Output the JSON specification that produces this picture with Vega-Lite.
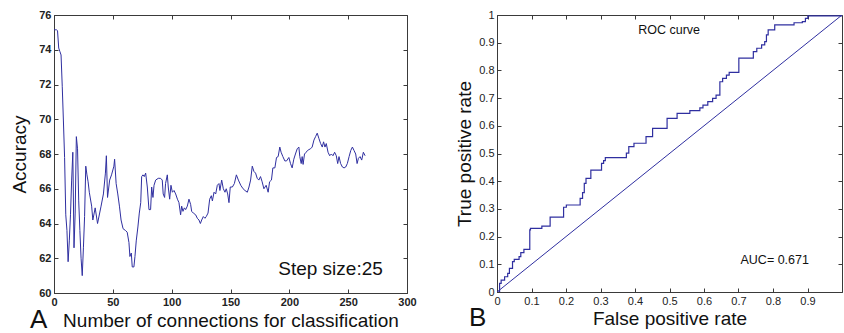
{
  "$schema": "https://vega.github.io/schema/vega-lite/v6.json",
  "padding": {"top": 8, "left": 10, "right": 0, "bottom": 0},
  "background": "white",
  "config": {
    "font": "Liberation Sans",
    "view": {"stroke": "#3a3a3a", "strokeWidth": 1},
    "axis": {
      "grid": false,
      "domainColor": "#3a3a3a",
      "tickColor": "#3a3a3a",
      "tickSize": -4,
      "labelPadding": 7,
      "labelFontSize": 11,
      "labelColor": "#222",
      "labelFlush": false,
      "labelOverlap": false,
      "titleFontSize": 19,
      "titleFontWeight": "normal",
      "titleColor": "#111"
    },
    "title": {"color": "#111", "fontWeight": "normal"}
  },
  "datasets": {
    "acc": [
      {"n": 0, "acc": 75.15}, {"n": 1, "acc": 75.15}, {"n": 2, "acc": 75.15}, {"n": 3, "acc": 75.1},
      {"n": 4, "acc": 74.1}, {"n": 5, "acc": 73.9}, {"n": 6, "acc": 73.7}, {"n": 7, "acc": 71.9},
      {"n": 8, "acc": 69.9}, {"n": 9, "acc": 67.8}, {"n": 10, "acc": 64.5}, {"n": 11, "acc": 63.6},
      {"n": 12, "acc": 61.8}, {"n": 13, "acc": 63.0}, {"n": 14, "acc": 64.5}, {"n": 15, "acc": 66.5},
      {"n": 16, "acc": 68.1}, {"n": 17, "acc": 62.6}, {"n": 18, "acc": 64.6}, {"n": 19, "acc": 69.0},
      {"n": 20, "acc": 68.3}, {"n": 21, "acc": 65.3}, {"n": 22, "acc": 63.6}, {"n": 23, "acc": 62.0},
      {"n": 24, "acc": 61.0}, {"n": 25, "acc": 62.6}, {"n": 26, "acc": 64.4}, {"n": 27, "acc": 67.3},
      {"n": 28, "acc": 66.8}, {"n": 29, "acc": 66.4}, {"n": 30, "acc": 65.8}, {"n": 32, "acc": 65.0},
      {"n": 33, "acc": 64.2}, {"n": 35, "acc": 64.9}, {"n": 37, "acc": 64.0}, {"n": 40, "acc": 65.0},
      {"n": 42, "acc": 65.7}, {"n": 43.7, "acc": 66.9}, {"n": 44.5, "acc": 67.9}, {"n": 45.5, "acc": 65.5},
      {"n": 47.3, "acc": 66.5}, {"n": 48.9, "acc": 66.8}, {"n": 50.9, "acc": 67.3}, {"n": 51.5, "acc": 67.7},
      {"n": 52.8, "acc": 66.3}, {"n": 54.2, "acc": 65.7}, {"n": 55.6, "acc": 65.0}, {"n": 57.0, "acc": 64.2},
      {"n": 58.7, "acc": 63.7}, {"n": 60.7, "acc": 63.6}, {"n": 62.2, "acc": 63.5}, {"n": 63.7, "acc": 62.9},
      {"n": 64.5, "acc": 62.1}, {"n": 65.7, "acc": 62.3}, {"n": 66.5, "acc": 61.5}, {"n": 67.9, "acc": 61.5},
      {"n": 68.8, "acc": 62.1}, {"n": 69.9, "acc": 63.0}, {"n": 71.3, "acc": 63.8}, {"n": 72.5, "acc": 64.6},
      {"n": 73.7, "acc": 65.2}, {"n": 74.5, "acc": 66.7}, {"n": 75.6, "acc": 66.8}, {"n": 76.7, "acc": 66.7},
      {"n": 77.9, "acc": 66.9}, {"n": 79.3, "acc": 66.1}, {"n": 80.7, "acc": 64.8}, {"n": 82.1, "acc": 64.8},
      {"n": 83, "acc": 66.1}, {"n": 84.1, "acc": 65.5}, {"n": 85, "acc": 66.2}, {"n": 86.4, "acc": 66.5},
      {"n": 88.6, "acc": 66.6}, {"n": 90.6, "acc": 66.6}, {"n": 92, "acc": 66.5}, {"n": 92.8, "acc": 65.7},
      {"n": 94, "acc": 65.5}, {"n": 94.8, "acc": 66.3}, {"n": 96.3, "acc": 66.8}, {"n": 97.1, "acc": 66.1},
      {"n": 98.3, "acc": 65.4}, {"n": 99.4, "acc": 66.2}, {"n": 100.6, "acc": 65.8}, {"n": 102, "acc": 65.9},
      {"n": 103.4, "acc": 65.7}, {"n": 104.9, "acc": 65.4}, {"n": 106.2, "acc": 65.2}, {"n": 107.6, "acc": 64.5},
      {"n": 108.5, "acc": 65.0}, {"n": 109.6, "acc": 64.7}, {"n": 110.8, "acc": 64.9}, {"n": 111.9, "acc": 64.8},
      {"n": 113.3, "acc": 65.0}, {"n": 114.7, "acc": 65.4}, {"n": 116.1, "acc": 65.1}, {"n": 117, "acc": 64.7},
      {"n": 118.4, "acc": 64.6}, {"n": 120.4, "acc": 64.5}, {"n": 121.8, "acc": 64.3}, {"n": 123.2, "acc": 64.2},
      {"n": 124.4, "acc": 64.0}, {"n": 125.5, "acc": 64.2}, {"n": 126.9, "acc": 64.4}, {"n": 128.3, "acc": 64.3},
      {"n": 129.4, "acc": 64.4}, {"n": 130.9, "acc": 64.6}, {"n": 132.3, "acc": 65.4}, {"n": 133.7, "acc": 65.6},
      {"n": 134.6, "acc": 65.3}, {"n": 136, "acc": 65.8}, {"n": 137.4, "acc": 65.7}, {"n": 138.8, "acc": 66.2},
      {"n": 140.2, "acc": 66.3}, {"n": 141, "acc": 65.9}, {"n": 142.5, "acc": 66.5}, {"n": 143.9, "acc": 66.0},
      {"n": 145.3, "acc": 65.8}, {"n": 146.4, "acc": 66.0}, {"n": 147.6, "acc": 65.7}, {"n": 148.7, "acc": 65.2},
      {"n": 149.8, "acc": 66.1}, {"n": 151.6, "acc": 66.1}, {"n": 153.3, "acc": 66.3}, {"n": 155, "acc": 66.8},
      {"n": 156.7, "acc": 66.5}, {"n": 158.7, "acc": 66.2}, {"n": 160.7, "acc": 66.0}, {"n": 162.3, "acc": 65.9},
      {"n": 164.3, "acc": 65.8}, {"n": 165.7, "acc": 66.1}, {"n": 167.1, "acc": 66.5}, {"n": 168.5, "acc": 67.3},
      {"n": 169.9, "acc": 67.0}, {"n": 171.3, "acc": 66.9}, {"n": 172.7, "acc": 66.6}, {"n": 174.1, "acc": 66.5},
      {"n": 175.5, "acc": 66.7}, {"n": 176.9, "acc": 66.4}, {"n": 178.4, "acc": 66.0}, {"n": 180.3, "acc": 66.2},
      {"n": 182, "acc": 65.8}, {"n": 183.2, "acc": 66.4}, {"n": 184.8, "acc": 66.5}, {"n": 186, "acc": 67.2},
      {"n": 187.7, "acc": 67.2}, {"n": 189.1, "acc": 67.8}, {"n": 190.5, "acc": 67.85}, {"n": 191.9, "acc": 68.4},
      {"n": 193, "acc": 68.1}, {"n": 194.5, "acc": 67.85}, {"n": 196.2, "acc": 67.6}, {"n": 197.6, "acc": 67.6},
      {"n": 199.6, "acc": 67.8}, {"n": 201, "acc": 67.45}, {"n": 202.4, "acc": 67.2}, {"n": 203.8, "acc": 67.7},
      {"n": 205.2, "acc": 68.0}, {"n": 206.7, "acc": 68.3}, {"n": 208.1, "acc": 68.4}, {"n": 208.9, "acc": 67.85},
      {"n": 210.1, "acc": 67.45}, {"n": 210.9, "acc": 67.85}, {"n": 211.7, "acc": 67.4}, {"n": 212.9, "acc": 68.0},
      {"n": 214.3, "acc": 68.1}, {"n": 215.4, "acc": 68.2}, {"n": 216.6, "acc": 68.25}, {"n": 218, "acc": 68.3},
      {"n": 219.4, "acc": 68.4}, {"n": 220.9, "acc": 68.8}, {"n": 222.3, "acc": 69.0}, {"n": 223.7, "acc": 69.2},
      {"n": 225.1, "acc": 68.9}, {"n": 226.6, "acc": 68.6}, {"n": 228, "acc": 68.4}, {"n": 229.1, "acc": 68.7},
      {"n": 230.3, "acc": 68.4}, {"n": 231.4, "acc": 68.6}, {"n": 232.9, "acc": 68.1}, {"n": 234.3, "acc": 67.9},
      {"n": 235.7, "acc": 68.0}, {"n": 237.1, "acc": 67.9}, {"n": 238.5, "acc": 68.1}, {"n": 239.9, "acc": 67.9},
      {"n": 241.1, "acc": 67.45}, {"n": 242.2, "acc": 67.85}, {"n": 243.6, "acc": 67.45}, {"n": 245.1, "acc": 67.25},
      {"n": 246.5, "acc": 67.2}, {"n": 247.9, "acc": 67.25}, {"n": 249.3, "acc": 67.45}, {"n": 250.8, "acc": 67.85},
      {"n": 252.2, "acc": 68.2}, {"n": 253.6, "acc": 68.4}, {"n": 255, "acc": 68.2}, {"n": 256.4, "acc": 68.0},
      {"n": 257.6, "acc": 67.45}, {"n": 258.7, "acc": 67.75}, {"n": 260.1, "acc": 67.85}, {"n": 261.5, "acc": 67.65},
      {"n": 262.9, "acc": 68.1}, {"n": 264.4, "acc": 67.9}
    ],
    "roc": [
      {"fpr": 0, "tpr": 0}, {"fpr": 0.0075, "tpr": 0.031}, {"fpr": 0.012, "tpr": 0.043}, {"fpr": 0.022, "tpr": 0.055},
      {"fpr": 0.031, "tpr": 0.067}, {"fpr": 0.036, "tpr": 0.085}, {"fpr": 0.045, "tpr": 0.11}, {"fpr": 0.05, "tpr": 0.118},
      {"fpr": 0.064, "tpr": 0.128}, {"fpr": 0.069, "tpr": 0.142}, {"fpr": 0.078, "tpr": 0.154}, {"fpr": 0.095, "tpr": 0.224},
      {"fpr": 0.097, "tpr": 0.23}, {"fpr": 0.13, "tpr": 0.238}, {"fpr": 0.154, "tpr": 0.27}, {"fpr": 0.193, "tpr": 0.306},
      {"fpr": 0.201, "tpr": 0.314}, {"fpr": 0.241, "tpr": 0.338}, {"fpr": 0.248, "tpr": 0.359}, {"fpr": 0.253, "tpr": 0.392},
      {"fpr": 0.258, "tpr": 0.41}, {"fpr": 0.272, "tpr": 0.44}, {"fpr": 0.303, "tpr": 0.464}, {"fpr": 0.309, "tpr": 0.474},
      {"fpr": 0.314, "tpr": 0.485}, {"fpr": 0.375, "tpr": 0.501}, {"fpr": 0.382, "tpr": 0.525}, {"fpr": 0.397, "tpr": 0.537},
      {"fpr": 0.432, "tpr": 0.561}, {"fpr": 0.451, "tpr": 0.591}, {"fpr": 0.493, "tpr": 0.627}, {"fpr": 0.522, "tpr": 0.645},
      {"fpr": 0.559, "tpr": 0.655}, {"fpr": 0.588, "tpr": 0.665}, {"fpr": 0.597, "tpr": 0.675}, {"fpr": 0.611, "tpr": 0.687},
      {"fpr": 0.625, "tpr": 0.699}, {"fpr": 0.635, "tpr": 0.711}, {"fpr": 0.646, "tpr": 0.759}, {"fpr": 0.654, "tpr": 0.771},
      {"fpr": 0.665, "tpr": 0.783}, {"fpr": 0.673, "tpr": 0.793}, {"fpr": 0.701, "tpr": 0.844}, {"fpr": 0.743, "tpr": 0.868},
      {"fpr": 0.753, "tpr": 0.88}, {"fpr": 0.767, "tpr": 0.892}, {"fpr": 0.776, "tpr": 0.904}, {"fpr": 0.781, "tpr": 0.928},
      {"fpr": 0.786, "tpr": 0.946}, {"fpr": 0.805, "tpr": 0.964}, {"fpr": 0.861, "tpr": 0.972}, {"fpr": 0.885, "tpr": 0.976},
      {"fpr": 0.894, "tpr": 0.988}, {"fpr": 0.901, "tpr": 0.997}, {"fpr": 1, "tpr": 0.997}
    ],
    "diag": [{"fpr": 0, "tpr": 0}, {"fpr": 1, "tpr": 1}],
    "one": [{}]
  },
  "bounds": "flush",
  "spacing": 90,
  "hconcat": [
    {
      "width": 353,
      "height": 278,
      "title": {"text": "A", "orient": "bottom", "anchor": "start", "frame": "group", "fontSize": 26, "fontWeight": "normal", "dx": -24, "offset": -23},
      "layer": [
        {
          "data": {"name": "acc"},
          "mark": {"type": "line", "color": "#2f2fa0", "strokeWidth": 1},
          "encoding": {
            "x": {"field": "n", "type": "quantitative", "scale": {"domain": [0, 300]},
                  "axis": {"values": [0, 50, 100, 150, 200, 250, 300], "title": "Number of connections for classification", "labelFontWeight": "bold", "titlePadding": 4}},
            "y": {"field": "acc", "type": "quantitative", "scale": {"domain": [60, 76]},
                  "axis": {"values": [60, 62, 64, 66, 68, 70, 72, 74, 76], "title": "Accuracy", "labelFontWeight": "bold", "titlePadding": 9}}
          }
        },
        {
          "data": {"name": "one"},
          "mark": {"type": "text", "fontSize": 19, "color": "#111"},
          "encoding": {
            "x": {"datum": 235, "type": "quantitative", "axis": null},
            "y": {"datum": 61.38, "type": "quantitative", "axis": null},
            "text": {"value": "Step size:25"}
          }
        },
        {
          "data": {"name": "acc"},
          "mark": {"type": "line", "opacity": 0},
          "encoding": {
            "x": {"field": "n", "type": "quantitative", "axis": {"orient": "top", "values": [0, 50, 100, 150, 200, 250, 300], "labels": false, "title": null, "domain": false}},
            "y": {"field": "acc", "type": "quantitative", "axis": {"orient": "right", "values": [60, 62, 64, 66, 68, 70, 72, 74, 76], "labels": false, "title": null, "domain": false}}
          }
        }
      ],
      "resolve": {"axis": {"x": "independent", "y": "independent"}}
    },
    {
      "width": 345,
      "height": 277,
      "title": {"text": "B", "orient": "bottom", "anchor": "start", "frame": "group", "fontSize": 26, "fontWeight": "normal", "dx": -28, "offset": -23},
      "layer": [
        {
          "data": {"name": "roc"},
          "mark": {"type": "line", "color": "#2f2fa0", "strokeWidth": 1.2, "interpolate": "step-after", "clip": true},
          "encoding": {
            "x": {"field": "fpr", "type": "quantitative", "scale": {"domain": [0, 0.98]},
                  "axis": {"values": [0, 0.1, 0.2, 0.3, 0.4, 0.5, 0.6, 0.7, 0.8, 0.9], "format": ".1~f", "title": "False positive rate", "titlePadding": 3}},
            "y": {"field": "tpr", "type": "quantitative", "scale": {"domain": [0, 1]},
                  "axis": {"values": [0, 0.1, 0.2, 0.3, 0.4, 0.5, 0.6, 0.7, 0.8, 0.9, 1], "format": ".1~f", "title": "True positive rate", "titlePadding": 4}}
          }
        },
        {
          "data": {"name": "diag"},
          "mark": {"type": "line", "color": "#2f2fa0", "strokeWidth": 1, "clip": true},
          "encoding": {
            "x": {"field": "fpr", "type": "quantitative", "axis": null},
            "y": {"field": "tpr", "type": "quantitative", "axis": null}
          }
        },
        {
          "data": {"name": "one"},
          "mark": {"type": "text", "fontSize": 12.5, "color": "#111"},
          "encoding": {
            "x": {"datum": 0.499, "type": "quantitative", "axis": null},
            "y": {"datum": 0.946, "type": "quantitative", "axis": null},
            "text": {"value": "ROC curve"}
          }
        },
        {
          "data": {"name": "one"},
          "mark": {"type": "text", "fontSize": 12.5, "color": "#111"},
          "encoding": {
            "x": {"datum": 0.805, "type": "quantitative", "axis": null},
            "y": {"datum": 0.1155, "type": "quantitative", "axis": null},
            "text": {"value": "AUC= 0.671"}
          }
        },
        {
          "data": {"name": "diag"},
          "mark": {"type": "line", "opacity": 0, "clip": true},
          "encoding": {
            "x": {"field": "fpr", "type": "quantitative", "axis": {"orient": "top", "values": [0, 0.1, 0.2, 0.3, 0.4, 0.5, 0.6, 0.7, 0.8, 0.9], "labels": false, "title": null, "domain": false}},
            "y": {"field": "tpr", "type": "quantitative", "axis": {"orient": "right", "values": [0, 0.1, 0.2, 0.3, 0.4, 0.5, 0.6, 0.7, 0.8, 0.9, 1], "labels": false, "title": null, "domain": false}}
          }
        }
      ],
      "resolve": {"axis": {"x": "independent", "y": "independent"}}
    }
  ]
}
